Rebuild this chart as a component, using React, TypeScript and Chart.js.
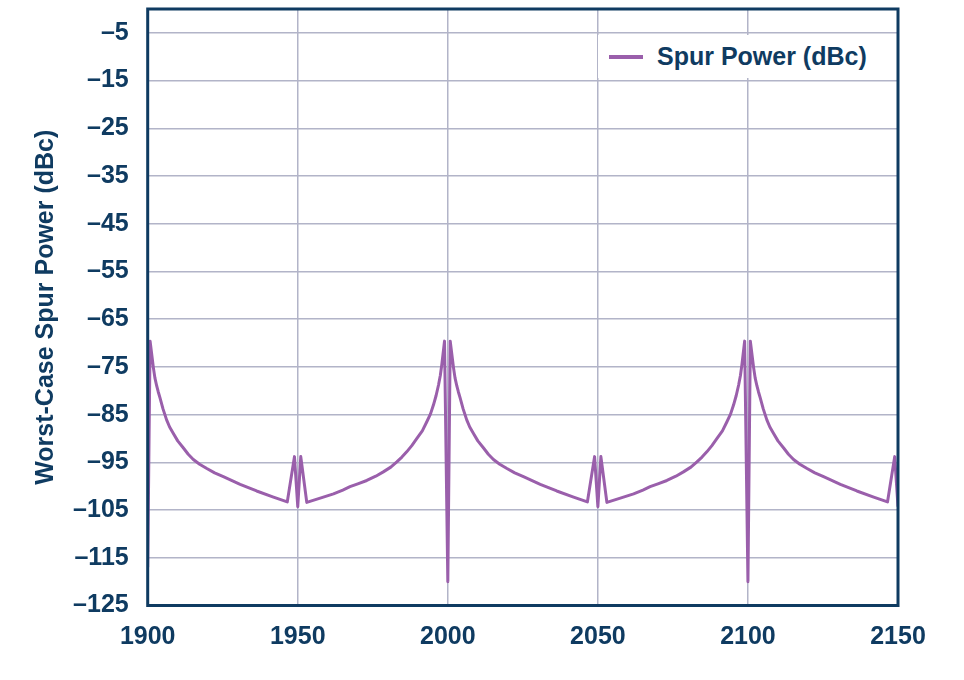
import { useEffect, useRef } from "react"
import { Chart, registerables } from "chart.js"

Chart.register(...registerables)

// Frequency (x) and worst-case spur power (dBc)
const freq = [
  1900, 1900.8, 1901.9, 1902.4, 1903, 1903.5, 1904.1, 1905.1, 1906.3, 1907.3,
  1908.5, 1910, 1911.9, 1913.5, 1915.2, 1917.3, 1919.7, 1922.3, 1925.2, 1930.8,
  1936.3, 1941.9, 1946.5, 1948.9, 1950, 1951, 1953, 1958, 1961.9, 1965,
  1967.4, 1970, 1973, 1976, 1978.5, 1981, 1983, 1984.7, 1986.3, 1988,
  1989.7, 1991.5, 1993, 1994.2, 1995.2, 1996.1, 1996.9, 1997.5, 1998, 1998.9,
  2000, 2000.8, 2001.9, 2002.4, 2003, 2003.5, 2004.1, 2005.1, 2006.3, 2007.3,
  2008.5, 2010, 2011.9, 2013.5, 2015.2, 2017.3, 2019.7, 2022.3, 2025.2, 2030.8,
  2036.3, 2041.9, 2046.5, 2048.9, 2050, 2051, 2053, 2058, 2061.9, 2065,
  2067.4, 2070, 2073, 2076, 2078.5, 2081, 2083, 2084.7, 2086.3, 2088,
  2089.7, 2091.5, 2093, 2094.2, 2095.2, 2096.1, 2096.9, 2097.5, 2098, 2098.9,
  2100, 2100.8, 2101.9, 2102.4, 2103, 2103.5, 2104.1, 2105.1, 2106.3, 2107.3,
  2108.5, 2110, 2111.9, 2113.5, 2115.2, 2117.3, 2119.7, 2122.3, 2125.2, 2130.8,
  2136.3, 2141.9, 2146.5, 2148.9, 2150,
]

const spur = [
  -117, -69.6, -75.2, -77.3, -79, -80.2, -81.5, -83.8, -86.1, -87.6,
  -88.9, -90.5, -92, -93.3, -94.4, -95.4, -96.3, -97.2, -98, -99.6,
  -101, -102.3, -103.3, -93.8, -104.3, -93.8, -103.4, -102.4, -101.6, -100.8,
  -100.1, -99.5, -98.8, -97.9, -97, -96, -94.9, -93.9, -92.8, -91.5,
  -90, -88.4, -86.5, -84.9, -83, -81, -78.8, -76.8, -74.5, -69.6,
  -120, -69.6, -75.2, -77.3, -79, -80.2, -81.5, -83.8, -86.1, -87.6,
  -88.9, -90.5, -92, -93.3, -94.4, -95.4, -96.3, -97.2, -98, -99.6,
  -101, -102.3, -103.3, -93.8, -104.3, -93.8, -103.4, -102.4, -101.6, -100.8,
  -100.1, -99.5, -98.8, -97.9, -97, -96, -94.9, -93.9, -92.8, -91.5,
  -90, -88.4, -86.5, -84.9, -83, -81, -78.8, -76.8, -74.5, -69.6,
  -120, -69.6, -75.2, -77.3, -79, -80.2, -81.5, -83.8, -86.1, -87.6,
  -88.9, -90.5, -92, -93.3, -94.4, -95.4, -96.3, -97.2, -98, -99.6,
  -101, -102.3, -103.3, -93.8, -104.3,
]

const yTicks = [-125, -115, -105, -95, -85, -75, -65, -55, -45, -35, -25, -15, -5]

const NAVY = "#0f3b61"
const PURPLE = "#9a5fab"
const GRID = "#b2b4c8"
const FONT = "'Liberation Sans', Arial, Helvetica, sans-serif"

// dark frame round the whole plot area, drawn over the line ends
const framePlugin = {
  id: "frame",
  afterDatasetsDraw(chart: Chart) {
    const { ctx, chartArea } = chart
    ctx.save()
    ctx.strokeStyle = NAVY
    ctx.lineWidth = 3
    ctx.strokeRect(
      chartArea.left,
      chartArea.top,
      chartArea.right - chartArea.left,
      chartArea.bottom - chartArea.top
    )
    ctx.restore()
  },
}

function SpurChart() {
  const chartRef = useRef<HTMLCanvasElement>(null)
  const chartInstance = useRef<Chart | null>(null)

  useEffect(() => {
    document.body.style.margin = "0"
    if (!chartRef.current) return
    if (chartInstance.current) chartInstance.current.destroy()

    const ctx = chartRef.current.getContext("2d")
    if (!ctx) return

    chartInstance.current = new Chart(ctx, {
      type: "line",
      data: {
        datasets: [
          {
            label: "Spur Power (dBc)",
            data: freq.map((f, i) => ({ x: f, y: spur[i] })),
            borderColor: PURPLE,
            borderWidth: 3,
            borderJoinStyle: "round",
            pointRadius: 0,
            tension: 0,
          },
        ],
      },
      options: {
        animation: false,
        responsive: true,
        maintainAspectRatio: false,
        layout: { padding: { left: 0, top: 9, right: 66, bottom: 0 } },
        plugins: {
          legend: { display: false },
          tooltip: { enabled: false },
        },
        scales: {
          x: {
            type: "linear",
            min: 1900,
            max: 2150,
            ticks: {
              stepSize: 50,
              padding: 17,
              color: NAVY,
              font: { family: FONT, size: 25, weight: "bold" },
              callback: (v) => String(v),
            },
            grid: { color: GRID, lineWidth: 1.5, drawTicks: false },
            border: { display: false },
            afterFit: (scale) => {
              scale.height = 74.5
            },
          },
          y: {
            min: -125,
            max: 0,
            afterBuildTicks: (scale) => {
              scale.ticks = yTicks.map((v) => ({ value: v }))
            },
            ticks: {
              padding: 19,
              color: NAVY,
              font: { family: FONT, size: 25, weight: "bold" },
              callback: (v) => "\u2013" + Math.abs(Number(v)),
            },
            grid: { color: GRID, lineWidth: 1.5, drawTicks: false },
            border: { display: false },
            title: {
              display: true,
              text: "Worst-Case Spur Power (dBc)",
              color: NAVY,
              font: { family: FONT, size: 25, weight: "bold" },
              padding: { top: 31, bottom: 0 },
            },
            afterFit: (scale: any) => {
              scale.width = 147.7
              scale.paddingTop = 0
              scale.paddingBottom = 0
            },
          },
        },
      },
      plugins: [framePlugin],
    })

    return () => {
      if (chartInstance.current) {
        chartInstance.current.destroy()
        chartInstance.current = null
      }
    }
  }, [])

  return (
    <div style={{ position: "relative", width: 964, height: 680, background: "#fff" }}>
      <canvas ref={chartRef}></canvas>
      <div
        style={{
          position: "absolute",
          left: 598,
          top: 35,
          width: 296,
          height: 43,
          background: "#fff",
          display: "flex",
          alignItems: "center",
          fontFamily: FONT,
          fontWeight: "bold",
          fontSize: 25,
          color: NAVY,
        }}
      >
        <span
          style={{
            display: "inline-block",
            width: 34,
            height: 4,
            background: PURPLE,
            marginLeft: 11,
            marginRight: 14,
          }}
        ></span>
        <span>Spur Power (dBc)</span>
      </div>
    </div>
  )
}

export default function App() {
  return <SpurChart />
}
